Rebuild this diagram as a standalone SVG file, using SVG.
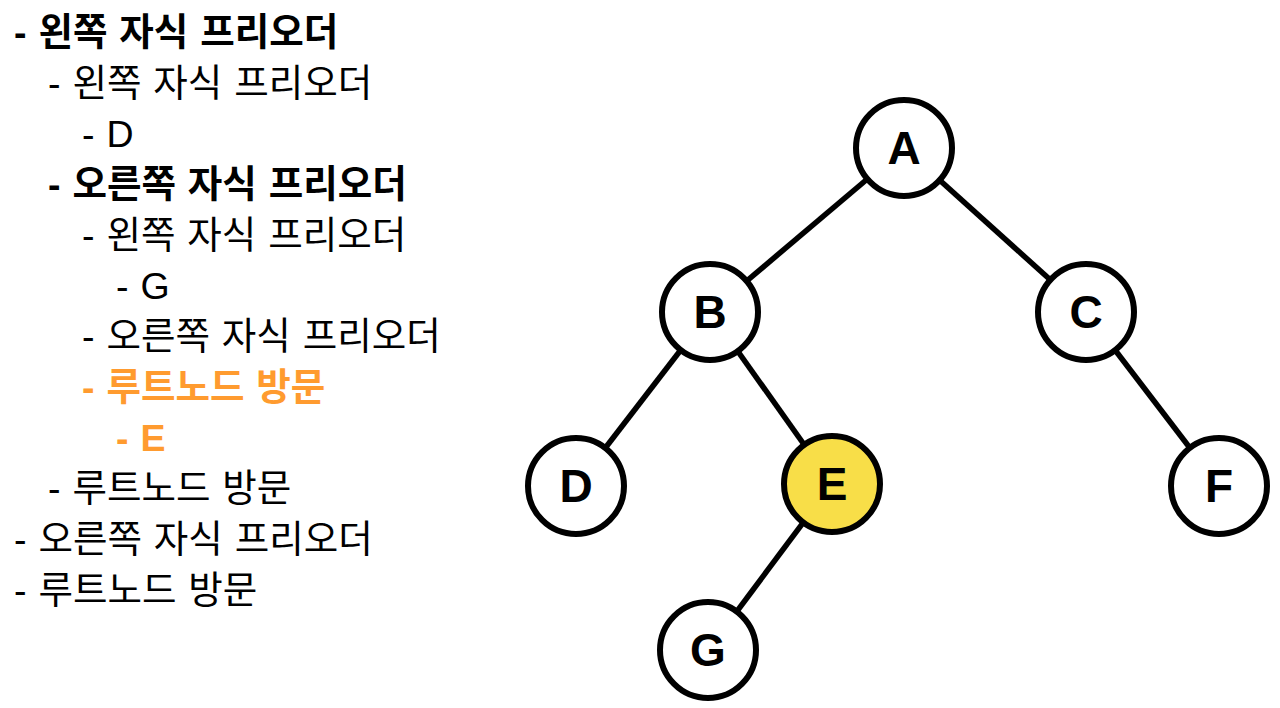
<svg xmlns="http://www.w3.org/2000/svg" width="1280" height="708" viewBox="0 0 1280 708">
<style>
.t{font-family:"Liberation Sans","Noto Sans CJK KR",sans-serif;font-size:37.5px;word-spacing:1.5px;fill:#000}
.b{font-weight:bold}
.o{fill:#FF9B2F;font-weight:bold}
.n{fill:#fff;stroke:#000;stroke-width:6}
.hl{fill:#F8DE48}
.lbl{font-family:"Liberation Sans",sans-serif;font-size:46px;font-weight:bold;text-anchor:middle;fill:#000}
.e{stroke:#000;stroke-width:5.5;fill:none}
</style>
<rect width="1280" height="708" fill="#fff"/>
<g id="outline">
<text class="t b" x="14" y="45">- 왼쪽 자식 프리오더</text>
<text class="t" x="48" y="96">- 왼쪽 자식 프리오더</text>
<text class="t" x="82" y="147">- D</text>
<text class="t b" x="48" y="197">- 오른쪽 자식 프리오더</text>
<text class="t" x="82" y="248">- 왼쪽 자식 프리오더</text>
<text class="t" x="116" y="299">- G</text>
<text class="t" x="82" y="349">- 오른쪽 자식 프리오더</text>
<text class="t o" x="82" y="400">- 루트노드 방문</text>
<text class="t o" x="116" y="451">- E</text>
<text class="t" x="48" y="501">- 루트노드 방문</text>
<text class="t" x="14" y="552">- 오른쪽 자식 프리오더</text>
<text class="t" x="14" y="603">- 루트노드 방문</text>
</g>
<g id="connectors">
<line class="e" x1="904" y1="148" x2="710" y2="312"/>
<line class="e" x1="904" y1="148" x2="1086" y2="312"/>
<line class="e" x1="710" y1="312" x2="576" y2="486"/>
<line class="e" x1="710" y1="312" x2="832" y2="484"/>
<line class="e" x1="1086" y1="312" x2="1219" y2="486"/>
<line class="e" x1="832" y1="484" x2="708" y2="650"/>
</g>
<g id="node-A"><circle class="n" cx="904" cy="148" r="48"/><text class="lbl" x="904" y="164">A</text></g>
<g id="node-B"><circle class="n" cx="710" cy="312" r="48"/><text class="lbl" x="710" y="328">B</text></g>
<g id="node-C"><circle class="n" cx="1086" cy="312" r="48"/><text class="lbl" x="1086" y="328">C</text></g>
<g id="node-D"><circle class="n" cx="576" cy="486" r="48"/><text class="lbl" x="576" y="502">D</text></g>
<g id="node-E"><circle class="n hl" cx="832" cy="484" r="48"/><text class="lbl" x="832" y="500">E</text></g>
<g id="node-F"><circle class="n" cx="1219" cy="486" r="48"/><text class="lbl" x="1219" y="502">F</text></g>
<g id="node-G"><circle class="n" cx="708" cy="650" r="48"/><text class="lbl" x="708" y="666">G</text></g>
</svg>
